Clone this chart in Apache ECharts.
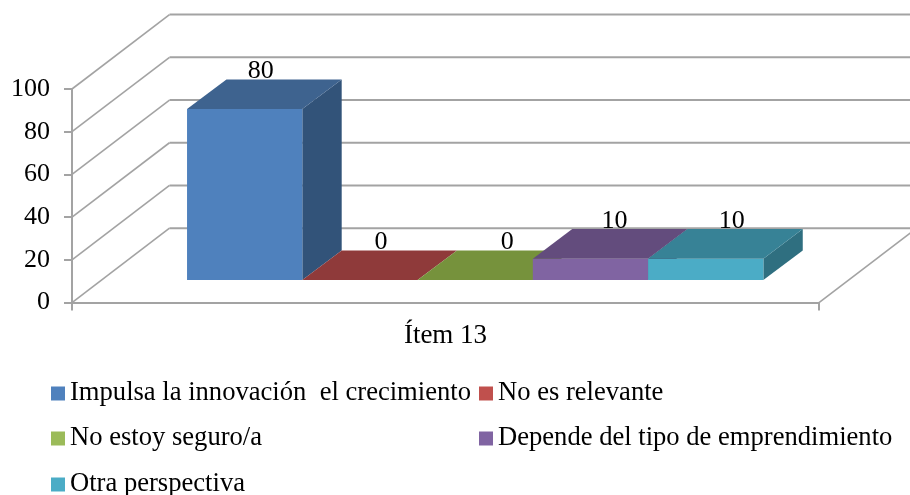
<!DOCTYPE html>
<html>
<head>
<meta charset="utf-8">
<title>Ítem 13</title>
<script src="https://cdn.jsdelivr.net/npm/echarts@6/dist/echarts.min.js"></script>
<style>
    html, body { margin: 0; padding: 0; background: #fff; }
    #main { width: 910px; height: 495px; }
</style>
</head>
<body>
<div id="main"></div>
<script>
// data
var categories = ['Ítem 13'];
var seriesNames = ['Impulsa la innovación  el crecimiento', 'No es relevante', 'No estoy seguro/a', 'Depende del tipo de emprendimiento', 'Otra perspectiva'];
var seriesValues = [80, 0, 0, 10, 10];
var yTicks = [0, 20, 40, 60, 80, 100];

// colours of the faces
var frontColors = ['#4F81BD', '#C0504D', '#9BBB59', '#8064A2', '#4BACC6'];
var topColors = ['#3E638F', '#8F3A3A', '#76923C', '#634C7D', '#378296'];
var sideColors = ['#325379', '#7A3130', '#5F7730', '#503E66', '#2F6F80'];

// fake 3d: shift of the back wall and of the bars in pixels
var wallDx = 97.5, wallDy = 74.4;
var floorDx = 29.7, floorDy = 22.6;
var depthDx = 39.4, depthDy = 29.6;
var barStart = 0.154, barSize = 0.1543; // share of the band
var labelShift = [16, 21, 32, 24, 26]; // labels do not sit in the middle of the bar
var fontName = 'Liberation Serif';
var gridColor = '#A3A3A3';

function poly(points, color) {
    return { type: 'polygon', shape: { points: points }, style: { fill: color } };
}

// walls: one diagonal and one back line for each tick, plus the right floor edge
function renderWall(params, api) {
    var p = api.coord([0, api.value(0)]);
    var band = api.size([1, 0])[0];
    var left = p[0] - band / 2;
    var right = p[0] + band / 2;
    var slant = { stroke: gridColor, lineWidth: 1.6 };
    var children = [
        { type: 'line', shape: { x1: left, y1: p[1], x2: left + wallDx, y2: p[1] - wallDy }, style: slant },
        { type: 'line', shape: { x1: left + wallDx, y1: p[1] - wallDy, x2: right + wallDx, y2: p[1] - wallDy }, style: { stroke: gridColor, lineWidth: 2 } }
    ];
    if (api.value(0) === 0) {
        children.push({ type: 'line', shape: { x1: right, y1: p[1], x2: right + wallDx, y2: p[1] - wallDy }, style: slant });
    }
    return { type: 'group', children: children };
}

function renderBar(params, api) {
    var i = params.seriesIndex - 1;
    var base = api.coord([0, 0]);
    var tip = api.coord([0, api.value(1)]);
    var band = api.size([1, 0])[0];
    var w = band * barSize;
    var x0 = base[0] - band / 2 + band * barStart + i * w;
    var x1 = x0 + w;
    var y0 = base[1] - floorDy;
    var y1 = y0 - (base[1] - tip[1]);
    var children = [];
    // side, front and top face
    children.push(poly([[x1, y0], [x1 + depthDx, y0 - depthDy], [x1 + depthDx, y1 - depthDy], [x1, y1]], sideColors[i]));
    children.push(poly([[x0, y0], [x1, y0], [x1, y1], [x0, y1]], frontColors[i]));
    children.push(poly([[x0, y1], [x1, y1], [x1 + depthDx, y1 - depthDy], [x0 + depthDx, y1 - depthDy]], topColors[i]));
    children.push({
        type: 'text',
        style: {
            x: (x0 + x1) / 2 + labelShift[i],
            y: y1 - depthDy - 8,
            text: String(api.value(1)),
            fill: '#000',
            font: '26px "' + fontName + '"',
            textAlign: 'center',
            textVerticalAlign: 'middle'
        }
    });
    return { type: 'group', children: children };
}

var series = [{
    type: 'custom',
    name: 'walls',
    silent: true,
    renderItem: renderWall,
    data: yTicks.map(function (t) { return [t]; }),
    encode: { y: 0 }
}];
for (var i = 0; i < seriesNames.length; i++) {
    series.push({
        type: 'custom',
        name: seriesNames[i],
        renderItem: renderBar,
        itemStyle: { color: frontColors[i] },
        data: [[0, seriesValues[i]]],
        encode: { x: 0, y: 1 }
    });
}

// one legend per entry, the entries line up in two columns
var legendSpots = [[51, 380], [479, 380], [51, 425], [479, 425], [51, 471]];
var legends = seriesNames.map(function (name, i) {
    return {
        left: legendSpots[i][0],
        top: legendSpots[i][1],
        data: [name],
        icon: 'rect',
        itemWidth: 14,
        itemHeight: 14,
        itemGap: 0,
        padding: 0,
        selectedMode: false,
        textStyle: { fontFamily: fontName, fontSize: 26.6, color: '#000' }
    };
});

var myChart = echarts.init(document.getElementById('main'), null, { renderer: 'canvas' });
var axisStyle = { color: gridColor, width: 2 };
myChart.setOption({
    animation: false,
    backgroundColor: '#fff',
    grid: { left: 72, right: 91, top: 89, height: 213.6 },
    legend: legends,
    xAxis: {
        type: 'category',
        data: categories,
        axisLine: { lineStyle: axisStyle },
        axisTick: { show: true, length: 8, lineStyle: axisStyle },
        axisLabel: { fontFamily: fontName, fontSize: 27, color: '#000', margin: 20 }
    },
    yAxis: {
        type: 'value',
        min: 0,
        max: 100,
        interval: 20,
        axisLine: { show: true, lineStyle: axisStyle },
        axisTick: { show: true, length: 8, lineStyle: axisStyle },
        splitLine: { show: false },
        axisLabel: { fontFamily: fontName, fontSize: 26, color: '#000', margin: 22, padding: [6, 0, 0, 0] }
    },
    series: series
});
</script>
</body>
</html>
